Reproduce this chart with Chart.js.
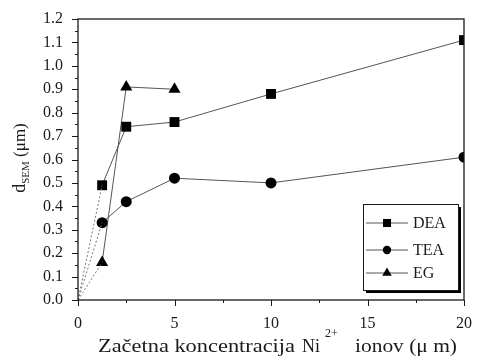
<!DOCTYPE html>
<html>
<head>
<meta charset="utf-8">
<script src="https://cdn.jsdelivr.net/npm/chart.js@4"></script>
<style>
  html, body { margin: 0; padding: 0; background: #fff; }
  #wrap { width: 478px; height: 363px; }
</style>
</head>
<body>
<div id="wrap"><canvas id="chart" width="478" height="363"></canvas></div>
<script>
// podatki odčitani s slike
const concDEA = [1.25, 2.5, 5, 10, 20];
const dDEA = [0.49, 0.74, 0.76, 0.88, 1.11];
const concTEA = [1.25, 2.5, 5, 10, 20];
const dTEA = [0.33, 0.42, 0.52, 0.50, 0.61];
const concEG = [1.25, 2.5, 5];
const dEG = [0.16, 0.91, 0.90];
const seriesNames = ['DEA', 'TEA', 'EG'];
const xTicks = [0, 5, 10, 15, 20];
const yTicks = [0, 0.1, 0.2, 0.3, 0.4, 0.5, 0.6, 0.7, 0.8, 0.9, 1.0, 1.1, 1.2];

const FONT = '"Liberation Serif", "DejaVu Serif", serif';
const INK = '#1a1a1a';
const LINE = '#555';

const toPts = (xs, ys) => xs.map((x, i) => ({ x: x, y: ys[i] }));

// pikčaste črte od izhodišča do prve točke
const dotted = (xs, ys) => ({
  data: [{ x: 0, y: 0 }, { x: xs[0], y: ys[0] }],
  showLine: true,
  borderColor: '#777',
  borderWidth: 1,
  borderDash: [2, 2],
  pointRadius: 0
});

const markers = ['rect', 'circle', 'triangle'];
const radii = [7, 5.5, 7];
const legendRadii = [5.7, 4.2, 5.5];
const main = [[concDEA, dDEA], [concTEA, dTEA], [concEG, dEG]].map((s, i) => ({
  label: seriesNames[i],
  data: toPts(s[0], s[1]),
  showLine: true,
  borderColor: LINE,
  borderWidth: 1,
  pointStyle: markers[i],
  pointRadius: radii[i],
  pointBackgroundColor: '#000',
  pointBorderColor: '#000',
  pointBorderWidth: 0
}));

// besedilo raztegnjeno na dano širino
function fitText(ctx, txt, x, y, width) {
  const w = ctx.measureText(txt).width;
  ctx.save();
  ctx.translate(x, y);
  ctx.scale(width / w, 1);
  ctx.fillText(txt, 0, 0);
  ctx.restore();
}

const framePlugin = {
  id: 'frame',
  afterDraw(chart) {
    const { ctx, chartArea: a, scales } = chart;
    ctx.save();
    ctx.strokeStyle = INK;
    ctx.lineWidth = 1.3;
    ctx.strokeRect(a.left, a.top, a.right - a.left, a.bottom - a.top);

    // oznake na oseh
    ctx.lineWidth = 1;
    for (let v = 0; v <= 1.2001; v += 0.05) {
      const y = Math.round(scales.y.getPixelForValue(v)) + 0.5;
      const major = Math.abs(v * 10 - Math.round(v * 10)) < 0.01;
      ctx.beginPath();
      ctx.moveTo(a.left - (major ? 6 : 3), y);
      ctx.lineTo(a.left, y);
      ctx.stroke();
    }
    for (let v = 0; v <= 20.001; v += 2.5) {
      const x = Math.round(scales.x.getPixelForValue(v)) + 0.5;
      const major = v % 5 === 0;
      ctx.beginPath();
      ctx.moveTo(x, a.bottom);
      ctx.lineTo(x, a.bottom + (major ? 6 : 3));
      ctx.stroke();
    }

    // naslov osi y
    ctx.fillStyle = INK;
    ctx.save();
    ctx.translate(19, 158);
    ctx.rotate(-Math.PI / 2);
    ctx.textBaseline = 'alphabetic';
    ctx.font = '18px ' + FONT;
    const w1 = ctx.measureText('d').width;
    ctx.font = '11px ' + FONT;
    const w2 = ctx.measureText('SEM').width;
    ctx.font = '17px ' + FONT;
    const w3 = ctx.measureText(' (\u03bcm)').width;
    let x0 = -(w1 + w2 + w3) / 2;
    ctx.font = '18px ' + FONT;
    ctx.fillText('d', x0, 6);
    ctx.font = '11px ' + FONT;
    ctx.fillText('SEM', x0 + w1, 10);
    ctx.font = '17px ' + FONT;
    ctx.fillText(' (\u03bcm)', x0 + w1 + w2, 6);
    ctx.restore();

    // naslov osi x
    ctx.textBaseline = 'alphabetic';
    ctx.font = '18.5px ' + FONT;
    fitText(ctx, 'Za\u010detna koncentracija', 98, 352, 197);
    fitText(ctx, 'Ni', 302, 352, 18);
    ctx.font = '12px ' + FONT;
    ctx.fillText('2+', 325, 337);
    ctx.font = '18.5px ' + FONT;
    fitText(ctx, 'ionov (\u03bc m)', 355, 352, 102);

    // legenda s senco
    const L = 363, T = 204, W = 95, H = 86;
    ctx.fillStyle = '#000';
    ctx.fillRect(L + 3, T + 3, W, H);
    ctx.fillStyle = '#fff';
    ctx.fillRect(L, T, W, H);
    ctx.strokeStyle = INK;
    ctx.lineWidth = 1;
    ctx.strokeRect(L + 0.5, T + 0.5, W, H);
    const rows = [223, 250, 273];
    rows.forEach((ry, i) => {
      ctx.strokeStyle = LINE;
      ctx.beginPath();
      ctx.moveTo(L + 3, ry);
      ctx.lineTo(L + 45, ry);
      ctx.stroke();
      ctx.fillStyle = '#000';
      Chart.helpers.drawPoint(ctx, {
        pointStyle: markers[i],
        radius: legendRadii[i],
        borderWidth: 0
      }, L + 24, ry);
      ctx.fillStyle = INK;
      ctx.font = '16px ' + FONT;
      ctx.textBaseline = 'middle';
      ctx.fillText(seriesNames[i], L + 50, ry + 1);
    });
    ctx.restore();
  }
};

const ctx = document.getElementById('chart').getContext('2d');
new Chart(ctx, {
  type: 'scatter',
  data: {
    datasets: [
      dotted(concDEA, dDEA),
      dotted(concTEA, dTEA),
      dotted(concEG, dEG),
      ...main
    ]
  },
  options: {
    responsive: false,
    animation: false,
    layout: { padding: { top: 19, right: 11, left: 0, bottom: 0 } },
    plugins: {
      legend: { display: false },
      tooltip: { enabled: false }
    },
    scales: {
      x: {
        type: 'linear',
        min: 0,
        max: 20,
        grid: { display: false },
        border: { display: false },
        afterBuildTicks: (s) => { s.ticks = xTicks.map(v => ({ value: v })); },
        afterFit: (s) => { s.height = 63; },
        ticks: {
          color: INK,
          padding: 6,
          font: { family: FONT, size: 16 },
          callback: (v) => v
        }
      },
      y: {
        type: 'linear',
        min: 0,
        max: 1.2,
        grid: { display: false },
        border: { display: false },
        afterBuildTicks: (s) => { s.ticks = yTicks.map(v => ({ value: v })); },
        afterFit: (s) => { s.width = 78; },
        ticks: {
          color: INK,
          padding: 7,
          font: { family: FONT, size: 16 },
          callback: (v) => Number(v).toFixed(1)
        }
      }
    }
  },
  plugins: [framePlugin]
});
</script>
</body>
</html>
